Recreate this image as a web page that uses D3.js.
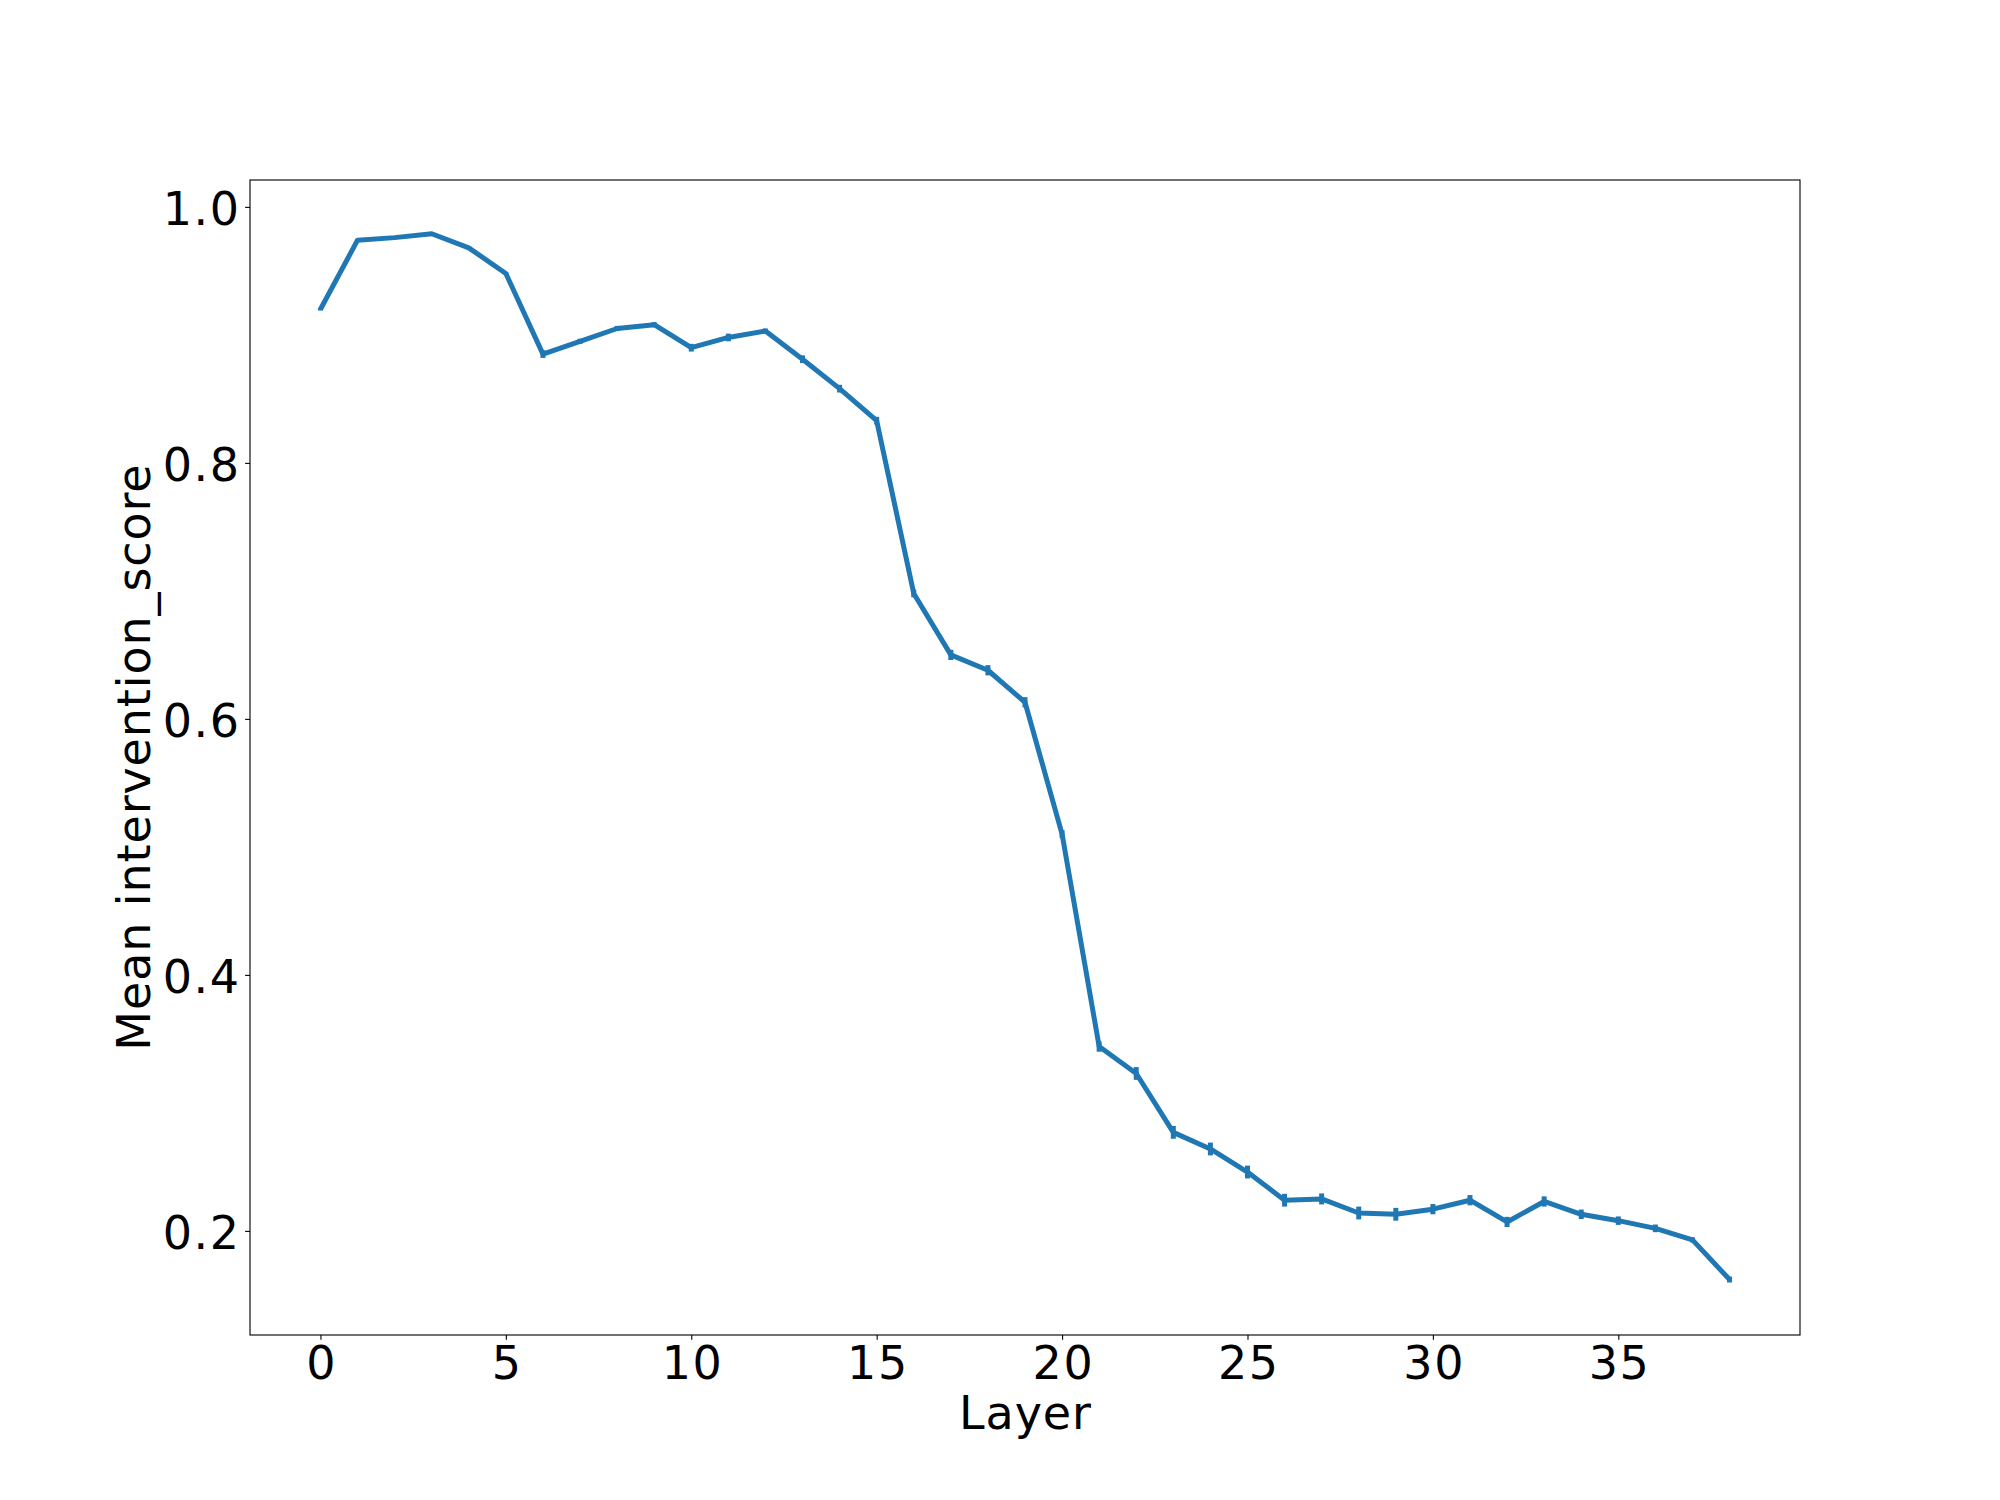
<!DOCTYPE html>
<html>
<head>
<meta charset="utf-8">
<script src="https://cdn.jsdelivr.net/npm/d3@7"></script>
<style>
  html, body { margin: 0; padding: 0; background: #ffffff; }
  svg { display: block; }
  text { font-family: "DejaVu Sans", sans-serif; fill: #000; }
</style>
</head>
<body>
<svg id="chart" width="2000" height="1500"></svg>
<script>
const layers = [0,1,2,3,4,5,6,7,8,9,10,11,12,13,14,15,16,17,18,19,20,21,22,23,24,25,26,27,28,29,30,31,32,33,34,35,36,37,38];
const meanScore = [0.920,0.974,0.976,0.979,0.968,0.948,0.885,0.895,0.905,0.908,0.890,0.898,0.903,0.881,0.858,0.833,0.698,0.650,0.638,0.613,0.510,0.344,0.323,0.277,0.264,0.246,0.224,0.225,0.214,0.213,0.217,0.224,0.207,0.223,0.213,0.208,0.202,0.193,0.162];
const errScore = [0.001,0.001,0.001,0.001,0.001,0.001,0.003,0.002,0.002,0.002,0.003,0.003,0.002,0.003,0.003,0.003,0.003,0.004,0.004,0.004,0.003,0.004,0.005,0.005,0.005,0.005,0.005,0.0043,0.005,0.005,0.004,0.004,0.004,0.004,0.0037,0.0033,0.003,0.002,0.0023];
const xTicks = [0,5,10,15,20,25,30,35];
const yTicks = [0.2,0.4,0.6,0.8,1.0];
const xLabel = "Layer";
const yLabel = "Mean intervention_score";

(function(){
const mLeft = 250, mRight = 1800, mTop = 180, mBottom = 1335;
const svg = d3.select("#chart");

const xMin = d3.min(layers), xMax = d3.max(layers);
const xPad = (xMax - xMin) * 0.05;
const x = d3.scaleLinear().domain([xMin - xPad, xMax + xPad]).range([mLeft, mRight]);
const yLo = d3.min(meanScore.map((v,i)=>v-errScore[i]));
const yHi = d3.max(meanScore.map((v,i)=>v+errScore[i]));
const yPad = (yHi - yLo) * 0.05;
const y = d3.scaleLinear().domain([yLo - yPad, yHi + yPad]).range([mBottom, mTop]);

const fs = 46;
const ls = 0.9;
const color = "#1f77b4";
const lw = 5;

const g = svg.append("g");
const data = layers.map((l,i)=>({l, v: meanScore[i], e: errScore[i]}));
g.append("path")
  .datum(data)
  .attr("fill","none")
  .attr("stroke", color)
  .attr("stroke-width", lw)
  .attr("stroke-linejoin","round")
  .attr("d", d3.line().x(d=>x(d.l)).y(d=>y(d.v)));
g.selectAll("line.err").data(data).enter().append("line")
  .attr("class","err")
  .attr("x1", d=>x(d.l)).attr("x2", d=>x(d.l))
  .attr("y1", d=>y(d.v - d.e)).attr("y2", d=>y(d.v + d.e))
  .attr("stroke", color).attr("stroke-width", lw);

svg.append("rect")
  .attr("x", mLeft).attr("y", mTop)
  .attr("width", mRight-mLeft).attr("height", mBottom-mTop)
  .attr("fill","none").attr("stroke","#000").attr("stroke-width",1.11);

const xAxis = d3.axisBottom(x).tickValues(xTicks).tickSize(4.86).tickPadding(4.86).tickFormat(d3.format("d"));
const xg = svg.append("g").attr("transform", `translate(0,${mBottom})`).call(xAxis);
xg.select(".domain").remove();
xg.selectAll(".tick line").attr("stroke","#000").attr("stroke-width",1.11);
xg.selectAll(".tick text")
  .attr("font-family","DejaVu Sans").attr("font-size", fs)
  .attr("letter-spacing", 1.6)
  .attr("dy", null).attr("y", 44).attr("x", 0.8).attr("fill","#000");

const yAxis = d3.axisLeft(y).tickValues(yTicks).tickSize(4.86).tickPadding(4.86).tickFormat(d3.format(".1f"));
const yg = svg.append("g").attr("transform", `translate(${mLeft},0)`).call(yAxis);
yg.select(".domain").remove();
yg.selectAll(".tick line").attr("stroke","#000").attr("stroke-width",1.11);
yg.selectAll(".tick text")
  .attr("font-family","DejaVu Sans").attr("font-size", fs)
  .attr("letter-spacing", 1.6)
  .attr("dy", null).attr("y", 17.2).attr("x", -9.4).attr("fill","#000");

svg.append("text")
  .attr("x", (mLeft+mRight)/2 + ls/2).attr("y", 1429)
  .attr("text-anchor","middle").attr("font-size", fs)
  .attr("letter-spacing", ls)
  .text(xLabel);
svg.append("text")
  .attr("transform", `translate(149.5,${(mTop+mBottom)/2 - ls/2}) rotate(-90)`)
  .attr("text-anchor","middle").attr("font-size", fs)
  .attr("letter-spacing", ls)
  .text(yLabel);
})();
</script>
</body>
</html>
